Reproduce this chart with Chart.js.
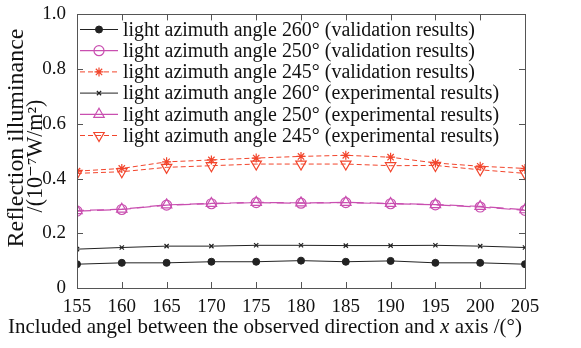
<!DOCTYPE html>
<html><head><meta charset="utf-8">
<script src="https://cdn.jsdelivr.net/npm/chart.js@4"></script>
<style>html,body{margin:0;padding:0;background:#fff}#wrap{width:581px;height:348px}</style>
</head><body><div id="wrap"><canvas id="c" width="581" height="348"></canvas></div>
<script>
const angles = [155,160,165,170,175,180,185,190,195,200,205];
const xTickLabels = ['155','160','165','170','175','180','185','190','195','200','205'];
const yTickValues = [0,0.2,0.4,0.6,0.8,1.0];
const yTickLabels = ['0','0.2','0.4','0.6','0.8','1.0'];
const val260 = [0.087,0.092,0.092,0.096,0.096,0.100,0.096,0.099,0.092,0.092,0.087];
const val250 = [0.281,0.287,0.303,0.308,0.312,0.310,0.312,0.308,0.304,0.296,0.284];
const val245 = [0.427,0.437,0.461,0.468,0.475,0.481,0.485,0.478,0.457,0.445,0.437];
const exp260 = [0.142,0.148,0.153,0.153,0.156,0.156,0.155,0.155,0.156,0.153,0.148];
const exp250 = [0.283,0.288,0.304,0.309,0.313,0.311,0.313,0.309,0.305,0.298,0.286];
const exp245 = [0.419,0.425,0.441,0.447,0.453,0.453,0.453,0.447,0.448,0.432,0.419];
const seriesNames = [
 'light azimuth angle 260\u00b0 (validation results)',
 'light azimuth angle 250\u00b0 (validation results)',
 'light azimuth angle 245\u00b0 (validation results)',
 'light azimuth angle 260\u00b0 (experimental results)',
 'light azimuth angle 250\u00b0 (experimental results)',
 'light azimuth angle 245\u00b0 (experimental results)'];
const xTitleParts = ['Included angel between the observed direction and ','x',' axis /(\u00b0)'];
const yTitle = ['Reflection illuminance','/(10\u207b\u2077W/m\u00b2)'];

const BLACK='#222', PINK='#c94fb0', RED='#f2452c';
const TFONT='"Liberation Serif", "DejaVu Serif", serif';
const NFONT='"Liberation Serif", "DejaVu Serif", serif';
function pts(arr){return angles.map((a,i)=>({x:a,y:arr[i]}));}
const ds = [
 {label:seriesNames[0],data:pts(val260),borderColor:BLACK,backgroundColor:BLACK,pointStyle:'circle',pointRadius:3.5,borderWidth:1,pointBorderWidth:1,borderDash:[],legendDash:[]},
 {label:seriesNames[1],data:pts(val250),borderColor:PINK,backgroundColor:'rgba(0,0,0,0)',pointStyle:'circle',pointRadius:5,borderWidth:1.2,pointBorderWidth:1.2,borderDash:[14,6],legendDash:[]},
 {label:seriesNames[2],data:pts(val245),borderColor:RED,backgroundColor:RED,pointStyle:'star',pointRadius:4.5,borderWidth:1,pointBorderWidth:1.2,borderDash:[5,3],legendDash:[5,3]},
 {label:seriesNames[3],data:pts(exp260),borderColor:BLACK,backgroundColor:BLACK,pointStyle:'crossRot',pointRadius:3,borderWidth:1,pointBorderWidth:1.2,borderDash:[],legendDash:[]},
 {label:seriesNames[4],data:pts(exp250),borderColor:PINK,backgroundColor:'rgba(0,0,0,0)',pointStyle:'triangle',pointRadius:6,borderWidth:1.2,pointBorderWidth:1.2,borderDash:[14,6],borderDashOffset:7,legendDash:[]},
 {label:seriesNames[5],data:pts(exp245),borderColor:RED,backgroundColor:'rgba(0,0,0,0)',pointStyle:'triangle',pointRotation:180,pointRadius:6,borderWidth:1,pointBorderWidth:1.2,borderDash:[5,3],legendDash:[5,3]}
];
ds.forEach(d=>{d.fill=false;d.tension=0;d.pointBorderColor=d.borderColor;d.pointBackgroundColor=d.backgroundColor;});

function fitSize(ctx,text,target,family,style){
 ctx.font=(style||'')+' 20px '+family;
 return 20*target/ctx.measureText(text).width;
}

const frame = {
 id:'frame',
 afterDatasetsDraw(chart){
  const {ctx,chartArea:a,scales:{x,y}}=chart;
  ctx.save();
  ctx.strokeStyle='#555';ctx.lineWidth=1;
  ctx.strokeRect(Math.round(a.left)+0.5,Math.round(a.top)+0.5,Math.round(a.right-a.left),Math.round(a.bottom-a.top));
  const L=6;
  ctx.beginPath();
  angles.forEach(v=>{const px=Math.round(x.getPixelForValue(v))+0.5;
   ctx.moveTo(px,a.bottom);ctx.lineTo(px,a.bottom-L);
   ctx.moveTo(px,a.top);ctx.lineTo(px,a.top+L);});
  yTickValues.forEach(v=>{const py=Math.round(y.getPixelForValue(v))+0.5;
   ctx.moveTo(a.left,py);ctx.lineTo(a.left+L,py);
   ctx.moveTo(a.right,py);ctx.lineTo(a.right-L,py);});
  ctx.stroke();
  // legend
  const x0=80,x1=118,xm=99,xt=123,y0=29.5,dy=21.2;
  const lsize=fitSize(ctx,seriesNames[0],352,TFONT);
  chart.data.datasets.forEach((d,i)=>{
   const yy=y0+i*dy;
   ctx.save();
   ctx.strokeStyle=d.borderColor;ctx.lineWidth=d.borderWidth;
   ctx.setLineDash(d.legendDash);
   ctx.beginPath();ctx.moveTo(x0,yy);ctx.lineTo(x1,yy);ctx.stroke();
   ctx.setLineDash([]);
   ctx.fillStyle=d.backgroundColor;ctx.lineWidth=d.pointBorderWidth;
   Chart.helpers.drawPoint(ctx,{pointStyle:d.pointStyle,rotation:d.pointRotation||0,radius:d.pointRadius,borderWidth:d.pointBorderWidth},xm,yy);
   ctx.restore();
   ctx.fillStyle='#111';ctx.font=lsize+'px '+TFONT;ctx.textBaseline='middle';ctx.textAlign='left';
   ctx.fillText(d.label,xt,yy+1);
  });
  // x title with italic x
  ctx.fillStyle='#111';ctx.textBaseline='alphabetic';ctx.textAlign='left';
  const fonts=['',"italic ",''];
  let s=20;
  let w=0;xTitleParts.forEach((p,i)=>{ctx.font=fonts[i]+s+'px '+TFONT;w+=ctx.measureText(p).width;});
  s=20*514/w;
  let cx=8;
  xTitleParts.forEach((p,i)=>{ctx.font=fonts[i]+s+'px '+TFONT;ctx.fillText(p,cx,333);cx+=ctx.measureText(p).width;});
  // y title
  const ys1=fitSize(ctx,yTitle[0],219,TFONT);
  ctx.textAlign='center';ctx.textBaseline='middle';
  ctx.save();ctx.translate(17,138);ctx.rotate(-Math.PI/2);ctx.font=ys1+'px '+TFONT;ctx.fillText(yTitle[0],0,0);ctx.restore();
  ctx.save();ctx.translate(36.5,156);ctx.rotate(-Math.PI/2);ctx.font=(ys1*0.92)+'px '+TFONT;ctx.fillText(yTitle[1],0,0);ctx.restore();
  ctx.restore();
 }
};

new Chart(document.getElementById('c'),{
 type:'line',
 data:{datasets:ds},
 options:{
  responsive:false,animation:false,
  layout:{padding:{left:4,right:56,top:13,bottom:2}},
  plugins:{legend:{display:false},tooltip:{enabled:false}},
  scales:{
   x:{type:'linear',min:155,max:205,
    afterBuildTicks(s){s.ticks=angles.map(v=>({value:v}));},
    grid:{display:false},border:{display:false},
    ticks:{color:'#111',font:{family:NFONT,size:19},padding:0,maxRotation:0,autoSkip:false,
     callback:(v)=>{const i=angles.indexOf(v);return i>=0?xTickLabels[i]:'';}},
    title:{display:false},
    afterFit(s){s.height=58;}
   },
   y:{min:0,max:1,
    afterBuildTicks(s){s.ticks=yTickValues.map(v=>({value:v}));},
    grid:{display:false},border:{display:false},
    ticks:{color:'#111',font:{family:NFONT,size:19},padding:3,
     callback:(v)=>{const i=yTickValues.findIndex(t=>Math.abs(t-v)<1e-9);return i>=0?yTickLabels[i]:'';}},
    title:{display:false},
    afterFit(s){s.width=73;}
   }
  }
 },
 plugins:[frame]
});
</script></body></html>
